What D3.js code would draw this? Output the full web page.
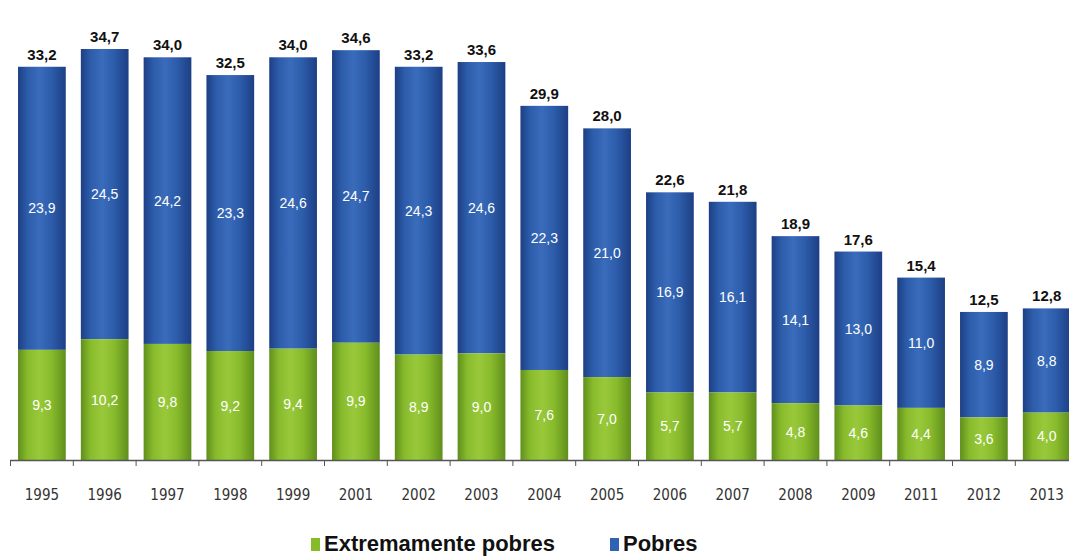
<!DOCTYPE html>
<meta charset="utf-8">
<style>
  body { margin: 0; background: #fff; }
  svg { display: block; }
  .yr { font-family: "Liberation Sans Narrow", "Arial Narrow", "DejaVu Sans Condensed", sans-serif; font-size: 15px; fill: #333; }
  .tot { font-family: "Liberation Sans Narrow", "Arial Narrow", sans-serif; font-size: 15px; font-weight: bold; fill: #111; }
  .inl { font-family: "Liberation Sans Narrow", "Arial Narrow", sans-serif; font-size: 14px; fill: #fff; }
  .leg { font-family: "Liberation Sans Narrow", "Arial Narrow", sans-serif; font-size: 22px; font-weight: bold; fill: #111; }
</style>
<body>
<script src="https://d3js.org/d3.v7.min.js"></script>
<script>

// data
var years = ["1995","1996","1997","1998","1999","2001","2002","2003","2004","2005","2006","2007","2008","2009","2011","2012","2013"];
var extremos = [9.3,10.2,9.8,9.2,9.4,9.9,8.9,9.0,7.6,7.0,5.7,5.7,4.8,4.6,4.4,3.6,4.0];
var pobres = [23.9,24.5,24.2,23.3,24.6,24.7,24.3,24.6,22.3,21.0,16.9,16.1,14.1,13.0,11.0,8.9,8.8];
var totales = [33.2,34.7,34.0,32.5,34.0,34.6,33.2,33.6,29.9,28.0,22.6,21.8,18.9,17.6,15.4,12.5,12.8];

var W = 1069, H = 560;
var baseY = 460;

var svg = d3.select("body").append("svg")
  .attr("width", W)
  .attr("height", H);

var x = d3.scaleBand()
  .domain(years)
  .range([10.5, 10.5 + 17 * 62.8])
  .paddingInner(0.24)
  .paddingOuter(0.12);

var y = d3.scaleLinear()
  .domain([0, 34.7])
  .range([baseY, 49]);

// gradients so the bars look like the cylinders in the original
var defs = svg.append("defs");
function grad(id, edge, mid, light) {
  var g = defs.append("linearGradient").attr("id", id)
    .attr("x1", "0%").attr("x2", "100%").attr("y1", "0%").attr("y2", "0%");
  g.append("stop").attr("offset", "0%").attr("stop-color", edge);
  g.append("stop").attr("offset", "20%").attr("stop-color", mid);
  g.append("stop").attr("offset", "45%").attr("stop-color", light);
  g.append("stop").attr("offset", "70%").attr("stop-color", mid);
  g.append("stop").attr("offset", "100%").attr("stop-color", edge);
}
grad("gBlue", "#1d3f84", "#2c5caa", "#3a6cbb");
grad("gGreen", "#5f8f1c", "#88bb2c", "#99c93a");

var rows = years.map(function(d, i) {
  return {year: d, ext: extremos[i], pob: pobres[i], tot: totales[i]};
});

var bars = svg.selectAll(".bar").data(rows).enter().append("g");

bars.append("rect")
  .attr("x", function(d) { return x(d.year); })
  .attr("width", x.bandwidth())
  .attr("y", function(d) { return y(d.tot); })
  .attr("height", function(d) { return y(d.ext) - y(d.tot); })
  .attr("fill", "url(#gBlue)");

bars.append("rect")
  .attr("x", function(d) { return x(d.year); })
  .attr("width", x.bandwidth())
  .attr("y", function(d) { return y(d.ext); })
  .attr("height", function(d) { return baseY - y(d.ext); })
  .attr("fill", "url(#gGreen)");

// value labels
bars.append("text").attr("class", "tot")
  .attr("x", function(d) { return x(d.year) + x.bandwidth() / 2; })
  .attr("y", function(d) { return y(d.tot) - 7; })
  .attr("text-anchor", "middle")
  .text(function(d) { return d3.format(".1f")(d.tot).replace(".", ","); });

bars.append("text").attr("class", "inl")
  .attr("x", function(d) { return x(d.year) + x.bandwidth() / 2; })
  .attr("y", function(d) { return (y(d.tot) + y(d.ext)) / 2 + 5; })
  .attr("text-anchor", "middle")
  .text(function(d) { return d3.format(".1f")(d.pob).replace(".", ","); });

bars.append("text").attr("class", "inl")
  .attr("x", function(d) { return x(d.year) + x.bandwidth() / 2; })
  .attr("y", function(d) { return (baseY + y(d.ext)) / 2 + 5; })
  .attr("text-anchor", "middle")
  .text(function(d) { return d3.format(".1f")(d.ext).replace(".", ","); });

// x axis: line, ticks between categories, year labels
svg.append("line")
  .attr("x1", 10).attr("x2", W)
  .attr("y1", baseY + 0.5).attr("y2", baseY + 0.5)
  .attr("stroke", "#555").attr("stroke-width", 1.5);

svg.selectAll(".tk").data(years).enter().append("line")
  .attr("x1", function(d) { return x(d) - x.step() * x.paddingInner() / 2; })
  .attr("x2", function(d) { return x(d) - x.step() * x.paddingInner() / 2; })
  .attr("y1", baseY).attr("y2", baseY + 6)
  .attr("stroke", "#555");

svg.selectAll(".yr").data(years).enter().append("text")
  .attr("class", "yr")
  .attr("x", function(d) { return x(d) + x.bandwidth() / 2; })
  .attr("y", 500)
  .attr("text-anchor", "middle")
  .text(function(d) { return d; });

// legend
var legend = [
  {label: "Extremamente pobres", color: "#86bb2a", x: 311},
  {label: "Pobres", color: "#2f62b3", x: 610}
];
var lg = svg.selectAll(".lg").data(legend).enter().append("g")
  .attr("transform", function(d) { return "translate(" + d.x + ",538)"; });
lg.append("rect").attr("width", 9).attr("height", 13).attr("y", 0)
  .attr("fill", function(d) { return d.color; });
lg.append("text").attr("class", "leg")
  .attr("x", 13).attr("y", 13)
  .text(function(d) { return d.label; });

</script>
</body>
